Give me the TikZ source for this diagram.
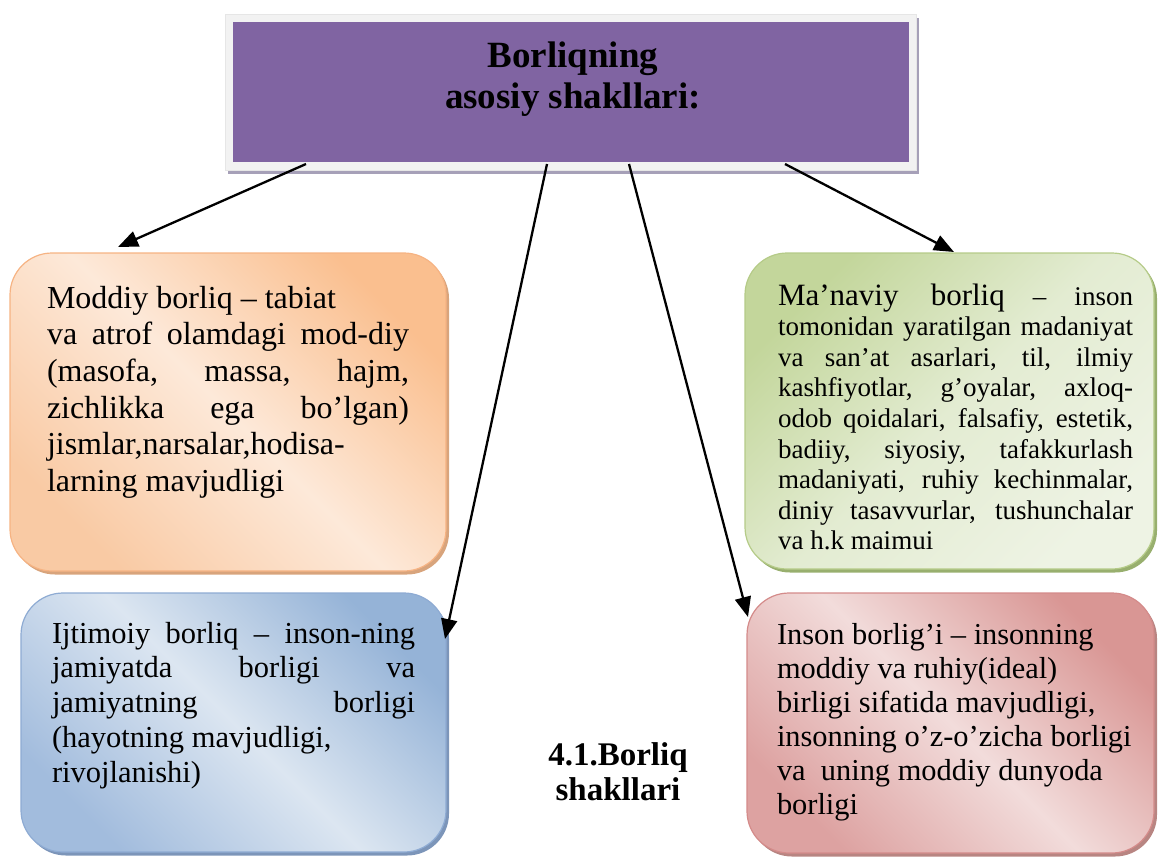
\documentclass[tikz,border=0pt]{standalone}
\usepackage{fontspec}
\setmainfont{Liberation Serif}
\usetikzlibrary{arrows.meta}
\definecolor{purp}{HTML}{8064A2}
\definecolor{frameC}{HTML}{F2F2F2}
\definecolor{frameB}{HTML}{E6E6E6}
\definecolor{tshadow}{HTML}{A6A0B8}
\definecolor{orDark}{HTML}{FABF8F}
\definecolor{orLight}{HTML}{FDE9D9}
\definecolor{orBL}{HTML}{F9CAA4}
\definecolor{orBorder}{HTML}{F6B383}
\definecolor{orShadow}{HTML}{D8A47C}
\definecolor{grDark}{HTML}{C3D69B}
\definecolor{grMid}{HTML}{E3ECD2}
\definecolor{grLight}{HTML}{EEF3E4}
\definecolor{grBorder}{HTML}{B5CB88}
\definecolor{grShadow}{HTML}{98AF6E}
\definecolor{blDark}{HTML}{95B3D7}
\definecolor{blLight}{HTML}{DCE6F1}
\definecolor{blBL}{HTML}{A2BCDD}
\definecolor{blBorder}{HTML}{8EABD3}
\definecolor{blShadow}{HTML}{7C95B9}
\definecolor{rdDark}{HTML}{D99694}
\definecolor{rdLight}{HTML}{F2DCDB}
\definecolor{rdBL}{HTML}{DDA2A1}
\definecolor{rdBorder}{HTML}{D48B8A}
\definecolor{rdShadow}{HTML}{B88582}
\newcommand{\jl}[1]{\makebox[\linewidth][s]{#1}\par}
\begin{document}
\begin{tikzpicture}[
  x=1pt, y=-1pt,
  rbox/.style={rectangle, rounded corners=42pt, inner sep=0pt, outer sep=0pt, line width=1.2pt},
  shad/.style={rbox, draw=none},
  flatbox/.style={rectangle, inner sep=0pt, outer sep=0pt},
  arr/.style={line width=2.3pt, -{Triangle[length=20pt,width=16pt]}},
  txt/.style={inner sep=0pt, outer sep=0pt, anchor=base west},
  ctxt/.style={inner sep=0pt, outer sep=0pt, anchor=base},
]
\useasboundingbox (0,0) rectangle (1158,857);

% title box
\node[flatbox, fill=tshadow, minimum width=691pt, minimum height=156pt] (tshad) at (573.5,96) {};
\node[flatbox, fill=frameC, draw=frameB, line width=0.6pt, minimum width=691pt, minimum height=156pt] (tframe) at (570.5,92) {};
\node[flatbox, fill=purp, minimum width=676pt, minimum height=140pt] (tpurp) at (571,92) {};
\node[ctxt] (title) at (573,67) {\parbox[t]{500pt}{\centering\fontsize{37}{41}\selectfont\bfseries Borliqning\\asosiy shakllari:}};

% shadows
\node[shad, fill=orShadow, minimum width=436pt, minimum height=318pt] (oshad) at (231,415.5) {};
\node[shad, fill=grShadow, minimum width=409pt, minimum height=316pt] (gshad) at (952.5,414.5) {};
\node[shad, fill=blShadow, minimum width=425pt, minimum height=259pt] (bshad) at (236.5,726) {};
\node[shad, fill=rdShadow, minimum width=407pt, minimum height=260pt] (rshad) at (953.5,726.5) {};

% boxes
\node[rbox, draw=orBorder, top color=orDark, bottom color=orBL, middle color=orLight, shading angle=-45,
      minimum width=436pt, minimum height=318pt] (obox) at (228,412) {};
\node[rbox, draw=grBorder, top color=grDark, bottom color=grLight, middle color=grMid, shading angle=45,
      minimum width=409pt, minimum height=316pt] (gbox) at (949.5,411) {};
\node[rbox, draw=blBorder, top color=blDark, bottom color=blBL, middle color=blLight, shading angle=-45,
      minimum width=425pt, minimum height=259pt] (bbox) at (233.5,722.5) {};
\node[rbox, draw=rdBorder, top color=rdDark, bottom color=rdBL, middle color=rdLight, shading angle=-45,
      minimum width=407pt, minimum height=260pt] (rbx) at (950.5,723) {};

% texts
\node[txt] (otext) at (47,308) {\parbox[t]{362pt}{\fontsize{32}{36.7}\selectfont
Moddiy borliq – tabiat\par
\jl{va atrof olamdagi mod-diy}
\jl{(masofa, massa, hajm,}
\jl{zichlikka ega bo’lgan)}
jismlar,narsalar,hodisa-\par
larning mavjudligi\par}};

\node[txt] (gtext) at (778,305) {\parbox[t]{355pt}{\fontsize{27}{30.6}\selectfont
\jl{{\fontsize{31}{31}\selectfont Ma’naviy borliq} – inson}
\jl{tomonidan yaratilgan madaniyat}
\jl{va san’at asarlari, til, ilmiy}
\jl{kashfiyotlar, g’oyalar, axloq-}
\jl{odob qoidalari, falsafiy, estetik,}
\jl{badiiy, siyosiy, tafakkurlash}
\jl{madaniyati, ruhiy kechinmalar,}
\jl{diniy tasavvurlar, tushunchalar}
va h.k maimui\par}};

\node[txt] (btext) at (52,643) {\parbox[t]{363pt}{\fontsize{30.5}{34.8}\selectfont
\jl{Ijtimoiy borliq – inson-ning}
\jl{jamiyatda borligi va}
\jl{jamiyatning borligi}
(hayotning mavjudligi,\par
rivojlanishi)\par}};

\node[txt] (rtext) at (777,644) {\parbox[t]{370pt}{\fontsize{30.4}{34}\selectfont
Inson borlig’i – insonning\par
moddiy va ruhiy(ideal)\par
birligi sifatida mavjudligi,\par
insonning o’z-o’zicha borligi\par
va\ \ uning moddiy dunyoda\par
borligi\par}};

\node[ctxt] (caption) at (618,765) {\parbox[t]{200pt}{\centering\fontsize{33}{35}\selectfont\bfseries 4.1.Borliq\\shakllari}};

% connectors
\coordinate (s1) at (306,164);
\coordinate (s2) at (547,164);
\coordinate (s3) at (629,164);
\coordinate (s4) at (785,164);
\coordinate (e1) at (118,247);
\coordinate (e2) at (445,639);
\coordinate (e3) at (748,617);
\coordinate (e4) at (954,252);
\draw[arr] (s1) -- (e1);
\draw[arr] (s2) -- (e2);
\draw[arr] (s3) -- (e3);
\draw[arr] (s4) -- (e4);
\end{tikzpicture}
\end{document}
